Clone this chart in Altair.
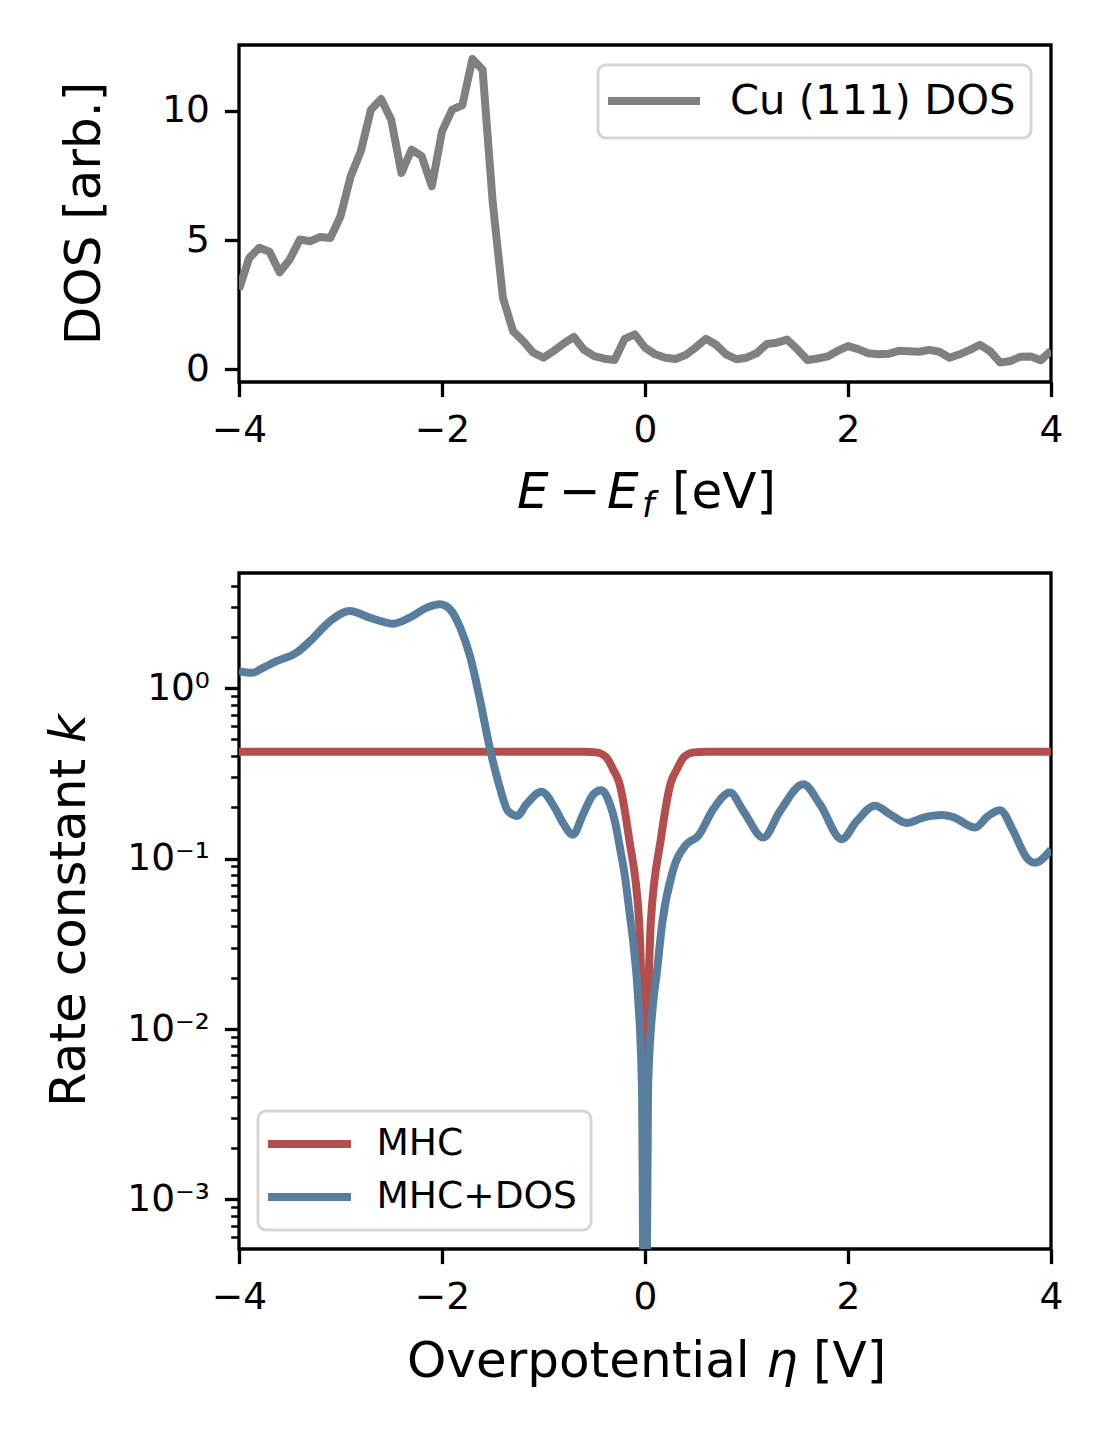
import altair as alt
import pandas as pd

FONT = "DejaVu Sans"
GRAY = "#808080"
RED = "#b24e4d"
BLUE = "#597d9c"

# ---------------- top panel: Cu(111) density of states ----------------
dos_energy = [-4.0, -3.9, -3.8, -3.7, -3.6, -3.5, -3.4, -3.3, -3.2, -3.1,
              -3.0, -2.9, -2.8, -2.7, -2.6, -2.5, -2.4, -2.3, -2.2, -2.1,
              -2.0, -1.9, -1.8, -1.7, -1.6, -1.5, -1.4, -1.3, -1.2, -1.1,
              -1.0, -0.9, -0.8, -0.7, -0.6, -0.5, -0.4, -0.3, -0.2, -0.1,
              0.0, 0.1, 0.2, 0.3, 0.4, 0.5, 0.6, 0.7, 0.8, 0.9,
              1.0, 1.1, 1.2, 1.3, 1.4, 1.5, 1.6, 1.7, 1.8, 1.9,
              2.0, 2.1, 2.2, 2.3, 2.4, 2.5, 2.6, 2.7, 2.8, 2.9,
              3.0, 3.1, 3.2, 3.3, 3.4, 3.5, 3.6, 3.7, 3.8, 3.9, 4.0]
dos_values = [3.1, 4.3, 4.7, 4.55, 3.75, 4.25, 5.02, 4.95, 5.12, 5.08,
              5.92, 7.46, 8.43, 10.04, 10.45, 9.65, 7.59, 8.49, 8.24, 7.08,
              9.20, 10.04, 10.21, 12.0, 11.58, 6.44, 2.77, 1.48, 1.09, 0.64,
              0.45, 0.71, 1.0, 1.25, 0.75, 0.51, 0.41, 0.36, 1.18, 1.35,
              0.84, 0.58, 0.45, 0.40, 0.55, 0.85, 1.18, 0.95, 0.58, 0.39,
              0.45, 0.62, 0.98, 1.03, 1.15, 0.78, 0.36, 0.42, 0.50, 0.72,
              0.90, 0.78, 0.62, 0.58, 0.60, 0.72, 0.70, 0.68, 0.75, 0.68,
              0.45, 0.58, 0.75, 0.95, 0.70, 0.26, 0.32, 0.49, 0.50, 0.35, 0.72]
dos_label = "Cu (111) DOS"

# ---------------- bottom panel: rate constants ----------------
eta_mhc = [-4.0, -0.6, -0.48, -0.385, -0.31, -0.255, -0.156, -0.057, 0.0,
           0.057, 0.156, 0.255, 0.31, 0.385, 0.48, 0.6, 4.0]
k_mhc = [0.423, 0.423, 0.42, 0.395, 0.33, 0.28, 0.13, 0.042, 0.006,
         0.042, 0.13, 0.28, 0.33, 0.395, 0.42, 0.423, 0.423]

eta_dos = [-4.0, -3.87, -3.76, -3.63, -3.43, -3.30, -3.10, -2.91, -2.71, -2.48,
           -2.32, -2.15, -2.02, -1.92, -1.82, -1.72, -1.63, -1.53, -1.43, -1.35,
           -1.26, -1.17, -1.02, -0.89, -0.80, -0.71, -0.61, -0.51, -0.43, -0.345,
           -0.296, -0.246, -0.197, -0.148, -0.115, -0.066, -0.03, 0.0, 0.03, 0.082,
           0.115, 0.17, 0.27, 0.40, 0.525, 0.673, 0.837, 0.969, 1.166, 1.33,
           1.56, 1.724, 1.938, 2.086, 2.266, 2.414, 2.578, 2.742, 2.923, 3.037,
           3.251, 3.382, 3.498, 3.629, 3.761, 3.842, 4.0]
k_dos = [1.26, 1.23, 1.32, 1.44, 1.62, 1.89, 2.48, 2.84, 2.59, 2.39,
         2.59, 2.97, 3.11, 2.90, 2.26, 1.51, 0.88, 0.448, 0.261, 0.19,
         0.178, 0.208, 0.247, 0.199, 0.159, 0.138, 0.182, 0.238, 0.252, 0.208,
         0.165, 0.115, 0.078, 0.046, 0.032, 0.0146, 0.0045, 0.00001, 0.0045, 0.0146,
         0.021, 0.042, 0.083, 0.12, 0.136, 0.195, 0.244, 0.19, 0.133, 0.19,
         0.273, 0.208, 0.13, 0.166, 0.204, 0.182, 0.162, 0.174, 0.18, 0.175,
         0.152, 0.178, 0.192, 0.145, 0.101, 0.0946, 0.113]

series_names = ["MHC", "MHC+DOS"]

x_ticks = [-4, -2, 0, 2, 4]
dos_ticks = [0, 5, 10]
k_major = [1, 0.1, 0.01, 0.001]
k_major_labels = ["10\u2070", "10\u207b\u00b9", "10\u207b\u00b2", "10\u207b\u00b3"]
k_minor = [0.0006, 0.0007, 0.0008, 0.0009,
           0.002, 0.003, 0.004, 0.005, 0.006, 0.007, 0.008, 0.009,
           0.02, 0.03, 0.04, 0.05, 0.06, 0.07, 0.08, 0.09,
           0.2, 0.3, 0.4, 0.5, 0.6, 0.7, 0.8, 0.9,
           2, 3, 4]

# ---------------- helpers ----------------
TOP_W, TOP_H = 812, 337
BOT_W, BOT_H = 812, 676
LW = 8


def txt(s, x, y, size=50, style="normal", angle=0, align="left", opacity=1.0):
    return alt.Chart(alt.Data(values=[{"t": s}])).mark_text(
        font=FONT, fontSize=size, fontStyle=style, angle=angle, align=align,
        baseline="alphabetic", color="black", opacity=opacity
    ).encode(x=alt.value(x), y=alt.value(y), text="t:N")


# ---------------- top chart ----------------
dos_df = pd.DataFrame({"E": dos_energy, "DOS": dos_values, "dos_series": dos_label})

dos_line = alt.Chart(dos_df).mark_line(
    strokeWidth=LW, strokeJoin="round", clip=True
).encode(
    x=alt.X("E:Q", scale=alt.Scale(domain=[-4, 4], nice=False, zero=False),
            axis=alt.Axis(values=x_ticks, title=None, labelFlush=False)),
    y=alt.Y("DOS:Q", scale=alt.Scale(domain=[-0.49, 12.54], nice=False, zero=False),
            axis=alt.Axis(values=dos_ticks, title=None)),
    color=alt.Color("dos_series:N",
                    scale=alt.Scale(domain=[dos_label], range=[GRAY]),
                    legend=alt.Legend(title=None, orient="top-right", offset=20,
                                      symbolType="M-2.706,0H2.706", symbolSize=34 * 34,
                                      symbolStrokeWidth=LW, symbolOffset=20,
                                      labelFontSize=41.7,
                                      labelFont=FONT, labelColor="black",
                                      labelOffset=55, labelLimit=800, padding=15,
                                      cornerRadius=8, strokeColor="#d6d6d6",
                                      fillColor="rgba(255,255,255,0.8)")),
)

top = alt.layer(
    dos_line,
    txt("DOS [arb.]", -139, TOP_H / 2, angle=270, align="center"),
    txt(".", -154, TOP_H / 2, angle=270, align="center", opacity=0),
    txt("E", 278, 463, style="italic"),
    txt("\u2212", 341, 463, align="center"),
    txt("E", 368, 463, style="italic"),
    txt("f", 403, 472, size=35, style="italic"),
    txt("[eV]", 433, 463),
).properties(width=TOP_W, height=TOP_H)

# ---------------- bottom chart ----------------
mhc_df = pd.DataFrame({"eta": eta_mhc, "k": k_mhc, "series": series_names[0]})
mhcdos_df = pd.DataFrame({"eta": eta_dos, "k": k_dos, "series": series_names[1]})

label_expr = " : ".join(
    f"datum.value == {v} ? '{lab}'" for v, lab in zip(k_major, k_major_labels)
) + " : ''"
major_test = " || ".join(f"datum.value == {v}" for v in k_major)

x_b = alt.X("eta:Q", scale=alt.Scale(domain=[-4, 4], nice=False, zero=False),
            axis=alt.Axis(values=x_ticks, title=None, labelFlush=False))
y_b = alt.Y("k:Q", scale=alt.Scale(type="log", domain=[0.000512, 4.74], nice=False),
            axis=alt.Axis(values=k_major + k_minor, title=None, labelExpr=label_expr,
                          labelOverlap=False,
                          tickSize={"condition": {"test": major_test, "value": 14.6}, "value": 8.3},
                          tickWidth={"condition": {"test": major_test, "value": 3.3}, "value": 2.5}))
color_b = alt.Color("series:N",
                    scale=alt.Scale(domain=series_names, range=[RED, BLUE]),
                    legend=alt.Legend(title=None, orient="bottom-left", offset=19,
                                      symbolType="M-2.767,0H2.767", symbolSize=30 * 30,
                                      symbolStrokeWidth=LW, symbolOffset=18.5,
                                      labelFontSize=37.5,
                                      labelFont=FONT, labelColor="black",
                                      labelOffset=48, labelLimit=800, padding=14,
                                      rowPadding=15, cornerRadius=8,
                                      strokeColor="#d6d6d6",
                                      fillColor="rgba(255,255,255,0.8)"))

mhc_line = alt.Chart(mhc_df).mark_line(
    strokeWidth=LW, interpolate="monotone", clip=True
).encode(x=x_b, y=y_b, color=color_b)
dos_k_line = alt.Chart(mhcdos_df).mark_line(
    strokeWidth=LW, interpolate="monotone", clip=True
).encode(x=x_b, y=y_b, color=color_b)

bottom = alt.layer(
    mhc_line,
    dos_k_line,
    txt("Rate constant", -154, 186, angle=270, align="right"),
    txt("k", -154, 170, style="italic", angle=270, align="left"),
    txt("Overpotential", 168, 804),
    txt("\u03b7", 527, 804, style="italic"),
    txt("[V]", 574, 804),
).properties(width=BOT_W, height=BOT_H)

chart = alt.vconcat(top, bottom, spacing=38).resolve_scale(
    color="independent"
).properties(
    padding={"left": 35, "top": 35, "right": 10, "bottom": 10}
).configure_view(
    stroke="black", strokeWidth=3.3
).configure_axis(
    domain=False, grid=False, tickColor="black", tickWidth=3.3, tickSize=14.6,
    labelFont=FONT, labelFontSize=37.5, labelColor="black", labelPadding=15
).configure_legend(
    strokeWidth=3
)

chart.save("out.html", embed_options={"renderer": "svg", "actions": False})
